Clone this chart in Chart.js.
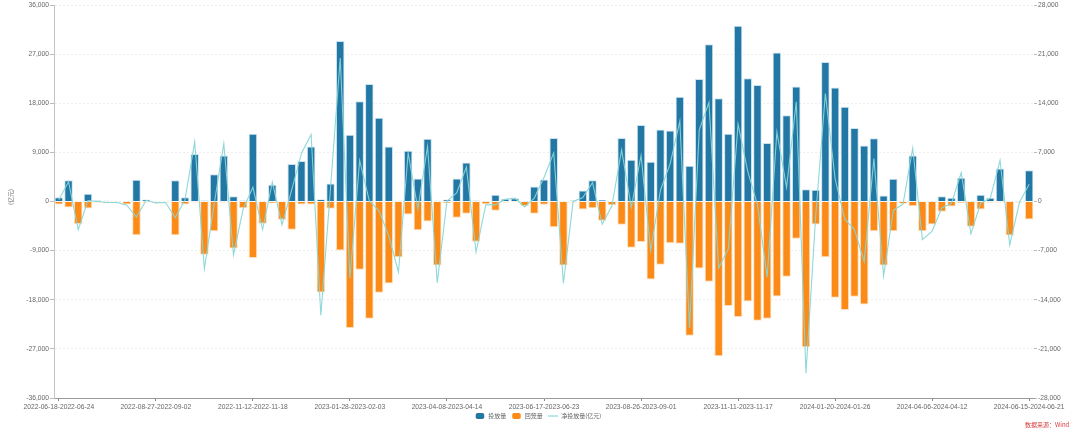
<!DOCTYPE html>
<html>
<head>
<meta charset="utf-8">
<style>
html,body{margin:0;padding:0;background:#fff;width:1080px;height:433px;overflow:hidden}
#w{position:relative;width:1080px;height:433px}
canvas{display:block;filter:blur(0.4px)}
</style>
<script src="https://cdn.jsdelivr.net/npm/chart.js@4"></script>
</head>
<body>
<div id="w"><canvas id="c" width="1080" height="433"></canvas></div>
<script>
const tickLabels = ['2022-06-18-2022-06-24','2022-08-27-2022-09-02','2022-11-12-2022-11-18','2023-01-28-2023-02-03','2023-04-08-2023-04-14','2023-06-17-2023-06-23','2023-08-26-2023-09-01','2023-11-11-2023-11-17','2024-01-20-2024-01-26','2024-04-06-2024-04-12','2024-06-15-2024-06-21'];
const inflow = [800,3900,100,1400,200,150,50,30,3980,370,50,50,3900,800,8700,200,5000,8450,980,200,12400,100,3060,60,6850,7400,10100,430,3300,29400,12240,18360,21540,15360,10100,150,9300,4200,11500,150,370,4200,7160,180,30,1220,490,610,30,2750,4040,11630,60,180,2020,3900,300,60,11630,7650,14000,7280,13200,13000,19200,6550,22460,28800,18900,12400,32200,22580,21360,10700,27300,15800,21050,2260,2140,25580,20870,17380,13460,10280,11570,1100,4160,60,8450,0,30,980,670,4350,30,1220,670,6060,30,30,5750];
const outflow = [-550,-1100,-4100,-1280,-200,-300,-200,-550,-6200,-200,-250,-200,-6200,-550,-200,-9760,-5430,-200,-8600,-1220,-10370,-4090,-300,-3360,-5190,-550,-550,-16650,-1340,-8970,-23180,-12500,-21470,-16700,-15000,-10190,-2380,-5250,-3660,-11710,-300,-2990,-2260,-7380,-490,-1700,-180,-120,-800,-2260,-610,-4700,-11710,-180,-1460,-1220,-3540,-670,-4270,-8480,-7440,-14270,-11590,-7630,-7750,-24580,-12260,-14700,-28360,-19150,-21170,-18300,-21840,-21470,-17390,-13790,-6830,-26720,-4210,-10190,-17630,-19890,-17450,-18850,-5430,-11710,-5430,-430,-850,-5430,-4210,-1890,-915,-250,-4640,-1460,-180,-180,-6220,-180,-3300];
const net = [250,2800,-4000,120,0,-150,-150,-520,-2220,170,-200,-150,-2300,250,8500,-9560,-430,8250,-7620,-1020,2030,-3990,2760,-3300,1660,6850,9550,-16220,1960,20430,-10940,5860,80,-1340,-4900,-10040,6920,-1050,7840,-11560,70,1210,4900,-7200,-460,-480,310,490,-770,490,3430,6930,-11650,0,560,2680,-3240,-610,7360,-830,6560,-6990,1610,5370,11450,-18030,10200,14100,-9460,-6750,11030,4280,-480,-10770,9910,2010,14220,-24460,-2070,15390,3240,-2510,-3990,-8570,6140,-10610,-1270,-370,7600,-5430,-4210,-910,-245,4100,-4610,-240,490,5880,-6190,-150,2450];
const seriesNames = ['投放量','回笼量','净投放量(亿元)'];
const unitLabel = '(亿元)';
const sourceNote = '数据来源：Wind';

const categories = inflow.map((_, i) => i % 10 === 0 ? tickLabels[i / 10] : '');
const fmt = v => Number(v).toLocaleString('en-US');
const FONT = '"Noto Sans CJK SC","Liberation Sans",sans-serif';
const LATIN = '"Liberation Sans",sans-serif';
const LINE = 'rgba(135,214,214,0.95)';

new Chart(document.getElementById('c'), {
  data: {
    labels: categories,
    datasets: [
      { type: 'line', label: seriesNames[2], data: net, yAxisID: 'y2', order: 0,
        borderColor: LINE, backgroundColor: '#fff', borderWidth: 1.1,
        pointRadius: 0, tension: 0, fill: false },
      { type: 'bar', label: seriesNames[0], data: inflow, yAxisID: 'y', stack: 's', order: 1,
        backgroundColor: '#2277a5', borderColor: 'rgba(190,220,235,0.8)', borderWidth: 1,
        barPercentage: 0.88, categoryPercentage: 1 },
      { type: 'bar', label: seriesNames[1], data: outflow, yAxisID: 'y', stack: 's', order: 1,
        backgroundColor: '#fb8a17', borderColor: 'rgba(253,215,175,0.8)', borderWidth: 1,
        barPercentage: 0.88, categoryPercentage: 1 }
    ]
  },
  options: {
    responsive: false,
    animation: false,
    devicePixelRatio: 1,
    layout: { padding: { top: 5, bottom: 6, left: 0, right: 0 } },
    plugins: {
      tooltip: { enabled: false },
      legend: {
        position: 'bottom',
        align: 'center',
        labels: {
          usePointStyle: true, pointStyleWidth: 10.5, boxHeight: 5, padding: 5, color: '#666',
          font: { size: 6, family: FONT },
          sort: (a, b) => ((a.datasetIndex + 2) % 3) - ((b.datasetIndex + 2) % 3),
          generateLabels(chart) {
            const items = Chart.defaults.plugins.legend.labels.generateLabels(chart);
            items.forEach(it => {
              if (it.datasetIndex === 0) {
                it.pointStyle = 'line'; it.strokeStyle = LINE; it.lineWidth = 1.2;
              } else {
                it.pointStyle = 'rectRounded'; it.lineWidth = 0;
              }
            });
            return items;
          }
        }
      }
    },
    scales: {
      x: {
        stacked: true,
        offset: true,
        afterFit(s) { s.height = 8; },
        border: { color: '#9a9a9a', width: 1 },
        grid: { offset: false, drawOnChartArea: false, tickLength: 3,
          tickColor: c => (c.index % 10 === 0 ? '#888' : 'rgba(0,0,0,0)') },
        ticks: { autoSkip: false, maxRotation: 0, minRotation: 0, padding: 2, color: '#666',
          font: { size: 6.7, family: LATIN } }
      },
      y: {
        position: 'left', stacked: true, min: -36000, max: 36000,
        afterFit(s) { s.width = 54; },
        border: { color: '#c4c4c4', width: 1, dash: [2, 2] },
        grid: { color: '#efefef', tickColor: '#bbb', tickLength: 4, lineWidth: 1 },
        ticks: { stepSize: 9000, padding: 1, color: '#666', callback: fmt,
          font: { size: 6.7, family: LATIN } }
      },
      y2: {
        position: 'right', min: -28000, max: 28000,
        afterFit(s) { s.width = 46; },
        border: { display: false },
        grid: { drawOnChartArea: false, tickColor: '#bbb', tickLength: 3 },
        ticks: { stepSize: 7000, padding: 1, color: '#666', callback: fmt,
          font: { size: 6.7, family: LATIN } }
      }
    }
  },
  plugins: [{
    id: 'notes',
    afterLayout(chart) {
      chart.scales.x.bottom = 425;
      const lg = chart.legend;
      lg.top += 2; lg.bottom += 2;
      lg.left -= 2; lg.right -= 2;
    },
    afterDraw(chart) {
      const g = chart.ctx;
      g.save();
      g.font = '6px ' + FONT;
      g.fillStyle = '#d8383a';
      g.textAlign = 'left';
      g.textBaseline = 'middle';
      g.fillText(sourceNote, 1025, 425);
      g.translate(11, 197);
      g.rotate(-Math.PI / 2);
      g.font = '6px ' + FONT;
      g.fillStyle = '#666';
      g.textAlign = 'center';
      g.fillText(unitLabel, 0, 0);
      g.restore();
    }
  }]
});
</script>
</body>
</html>
